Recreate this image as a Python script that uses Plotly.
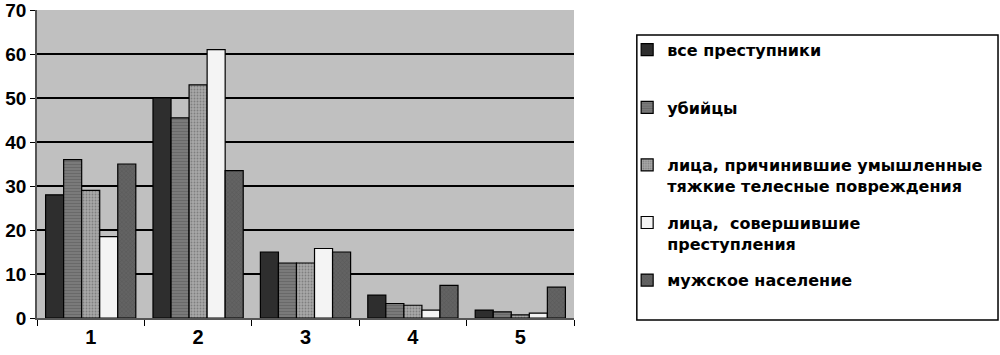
import plotly.graph_objects as go

categories = ["1", "2", "3", "4", "5"]
series_names = [
    "все преступники<br> ",
    "убийцы<br> ",
    "лица, причинившие умышленные<br>тяжкие телесные повреждения",
    "лица,  совершившие<br>преступления",
    "мужское население<br> ",
]
all_criminals = [28, 50, 15, 5.2, 1.8]
murderers = [36, 45.5, 12.5, 3.3, 1.4]
grievous_harm = [29, 53, 12.5, 2.9, 0.7]
committed = [18.5, 61, 15.8, 1.8, 1.1]
male_population = [35, 33.5, 15, 7.4, 7]
y_ticks = [0, 10, 20, 30, 40, 50, 60, 70]

values = [all_criminals, murderers, grievous_harm, committed, male_population]
colors = ["#2e2e2e", "#7a7a7a", "#a8a8a8", "#f4f4f4", "#636363"]
patterns = ["", "-", ".", "", "x"]

fig = go.Figure()
for i, (name, vals) in enumerate(zip(series_names, values)):
    fig.add_trace(go.Bar(
        x=categories, y=vals, name=name, legendgroup=str(i),
        marker=dict(color=colors[i], line=dict(color="#000000", width=1.2),
                    pattern=dict(shape=patterns[i], size=3, solidity=0.3,
                                 fgcolor="#555555" if i != 4 else "#4a4a4a")),
    ))

# legend frame drawn as a paper-referenced rectangle
fig.add_shape(type="rect", xref="paper", yref="paper",
              x0=1.117, x1=1.7896, y0=-0.0065, y1=0.9188,
              line=dict(color="#000000", width=1.5), fillcolor="rgba(0,0,0,0)",
              layer="above")

fig.update_layout(
    width=1000, height=355,
    margin=dict(l=37, r=426, t=10, b=37, autoexpand=False),
    plot_bgcolor="#c0c0c0", paper_bgcolor="#ffffff",
    barmode="group", bargap=0.16, bargroupgap=0.0,
    font=dict(family="Liberation Sans, Arial, sans-serif", color="#000000"),
    showlegend=True,
    legend=dict(
        x=1.099, y=0.926, xanchor="left", yanchor="top",
        borderwidth=0, bgcolor="rgba(0,0,0,0)",
        font=dict(size=16, family="DejaVu Sans, sans-serif", weight="bold"),
        traceorder="grouped", tracegroupgap=13, valign="top",
        itemwidth=30,
    ),
)
fig.update_xaxes(
    type="category", tickson="boundaries", ticks="outside", ticklen=6,
    tickcolor="#000000", showline=True, linecolor="#555555", linewidth=1.5,
    tickfont=dict(size=20, weight="bold"), showgrid=False, automargin=False,
)
fig.update_yaxes(
    range=[0, 70], tickvals=y_ticks, ticks="outside", ticklen=5,
    tickcolor="#000000", showline=True, linecolor="#555555", linewidth=1.5,
    gridcolor="#000000", gridwidth=2, zeroline=False, automargin=False,
    tickfont=dict(size=19, weight="bold"), ticklabeloverflow="allow",
)

fig.write_html(
    "out.html",
    config={"displayModeBar": False},
    post_script="document.body.style.margin='0';document.body.style.overflow='hidden';",
)
